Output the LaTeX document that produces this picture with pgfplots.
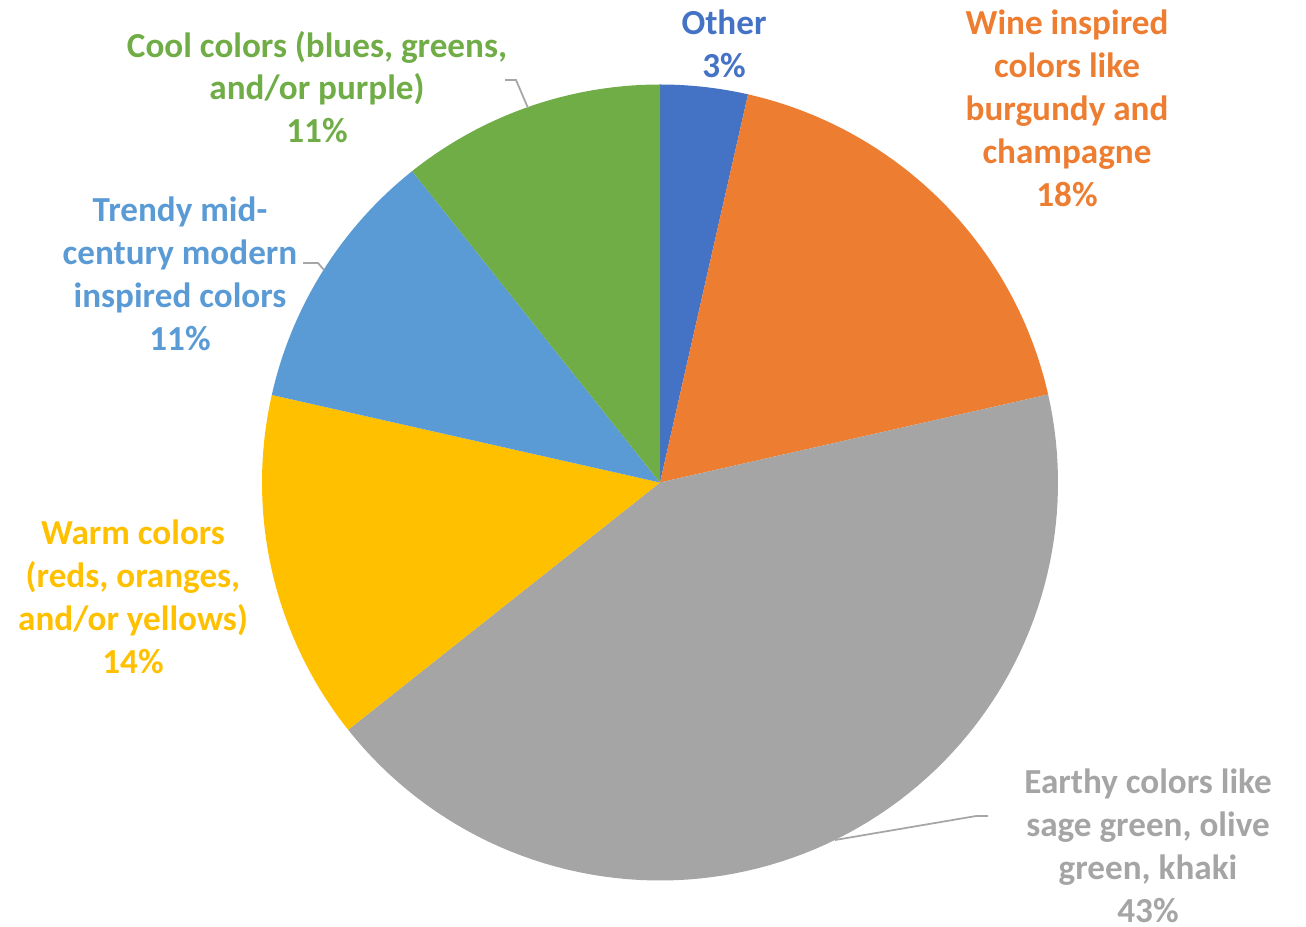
\documentclass[border=0pt]{standalone}
\usepackage{pgfplots}
\pgfplotsset{compat=1.18}
\usepackage{fontspec}
\setmainfont{Carlito}
\definecolor{cOther}{HTML}{4472C4}
\definecolor{cWine}{HTML}{ED7D31}
\definecolor{cEarth}{HTML}{A5A5A5}
\definecolor{cWarm}{HTML}{FFC000}
\definecolor{cTrendy}{HTML}{5B9BD5}
\definecolor{cCool}{HTML}{70AD47}
\definecolor{cLead}{HTML}{A6A6A6}
\def\cum{0}
\newcommand\slice[2]{%
  \pgfmathsetmacro\sa{\cum*3.6}%
  \pgfmathsetmacro\sb{(\cum+#2)*3.6}%
  \edef\tmp{\noexpand\addplot[fill=#1,draw=none,domain=\sa:\sb,samples=90] ({660+398*sin(x)},{443.5+398*cos(x)}) -- (660,443.5) -- cycle;}%
  \tmp
  \pgfmathsetmacro\cum{\cum+#2}%
}
\begin{document}
\begin{tikzpicture}
\begin{axis}[scale only axis, width=13.06cm, height=9.26cm,
  xmin=0, xmax=1306, ymin=0, ymax=926, hide axis, clip=false,
  nodes={font=\bfseries\fontsize{10}{12.2}\selectfont, align=center}]
\coordinate (bl) at (0,0);
\coordinate (tr) at (1306,926);
% values in percent, clockwise from top
\slice{cOther}{3.55}
\slice{cWine}{17.9}
\slice{cEarth}{42.88}
\slice{cWarm}{14.2}
\slice{cTrendy}{10.77}
\slice{cCool}{10.7}
% leader lines
\addplot[cLead, line width=0.5pt] coordinates {(505,846) (516,846) (528,818)};
\addplot[cLead, line width=0.5pt] coordinates {(303,663) (318,663) (324,656)};
\addplot[cLead, line width=0.5pt] coordinates {(988,110) (976,110) (835,86)};
% labels
\node[text=cOther] at (724,882.5) {Other\\3\%};
\node[text=cWine] at (1067,817.5) {Wine inspired\\colors like\\burgundy and\\champagne\\18\%};
\node[text=cEarth] at (1148,80.5) {Earthy colors like\\sage green, olive\\green, khaki\\43\%};
\node[text=cWarm] at (133,329.5) {Warm colors\\(reds, oranges,\\and/or yellows)\\14\%};
\node[text=cTrendy] at (180,652) {Trendy mid-\\century modern\\inspired colors\\11\%};
\node[text=cCool] at (317,839) {Cool colors (blues, greens,\\and/or purple)\\11\%};
\end{axis}
\pgfresetboundingbox
\path[use as bounding box] (bl) rectangle (tr);
\end{tikzpicture}
\end{document}
